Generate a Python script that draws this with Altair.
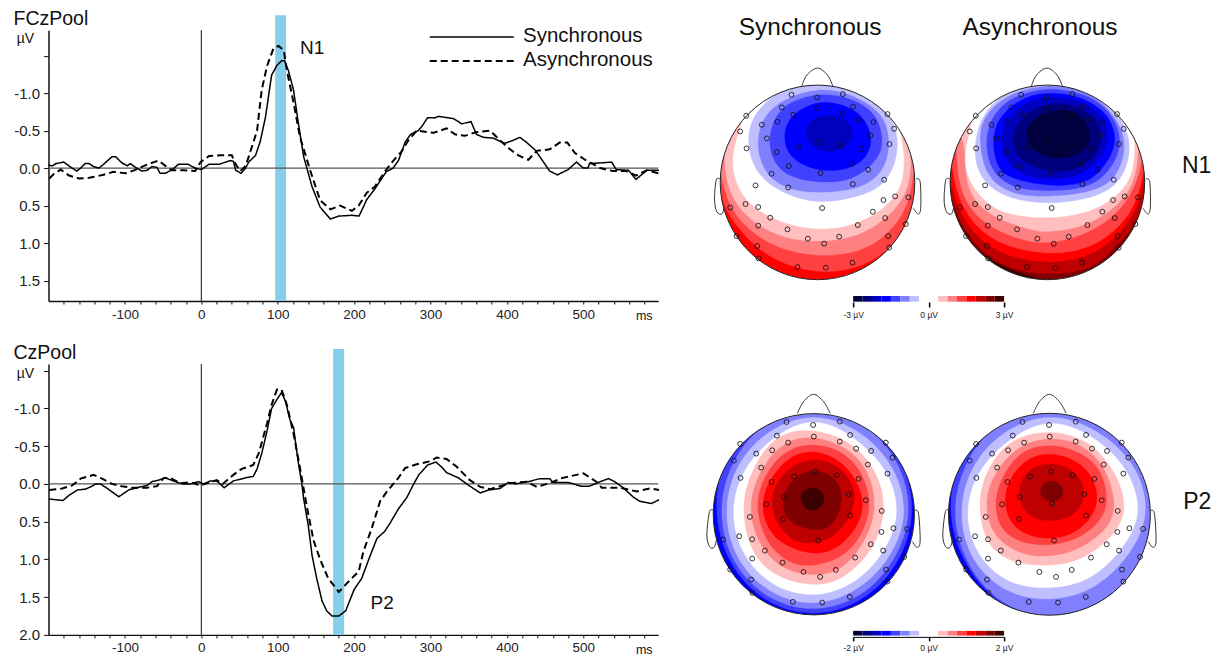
import altair as alt
import pandas as pd

FONT = "Liberation Sans"

# ---------- ERP waveforms: (ms, microvolts) ----------
FCZ_SYNC = [(-200,-.04),(-195,-.03),(-190,-.06),(-180,-.08),(-172,-.02),(-163,.04),(-158,0),(-152,-.06),(-147,-.06),(-141,-.02),(-134,0),(-128,-.05),(-117,-.15),(-112,-.15),(-104,-.07),(-97,-.03),(-93,-.06),(-86,-.01),(-78,.04),(-71,.03),(-64.5,-.02),(-58,-.01),(-54,.07),(-47,.07),(-38,.02),(-30,-.05),(-17,-.05),(-8,0),(0,.02),(10,-.05),(23,-.05),(38,-.1),(42,-.09),(45,.03),(52,.07),(58,0),(62,-.08),(71,-.17),(77,-.35),(84,-.68),(92,-1.24),(99,-1.37),(105,-1.43),(109,-1.43),(114,-1.3),(120.7,-1.04),(127,-.6),(134,-.15),(145,.25),(155.5,.52),(169,.68),(180,.64),(197,.63),(206.5,.64),(216.5,.42),(227,.28),(242,.05),(251,0),(258,-.1),(267,-.35),(274,-.45),(283.8,-.5),(289,-.56),(296,-.67),(306,-.67),(310,-.69),(330,-.66),(341,-.59),(353,-.62),(360,-.45),(369,-.41),(382,-.4),(397,-.33),(408,-.37),(417,-.41),(426,-.34),(437,-.24),(456,.04),(466,.09),(480,.02),(491,-.08),(500,0),(506,0),(508,-.06),(524,-.07),(537,-.08),(543,.02),(559,.03),(569,.15),(583,.03),(599,.03)]
FCZ_ASYNC = [(-199,.14),(-193,.08),(-184,.02),(-173,.1),(-160,.14),(-147,.13),(-128,.09),(-115,.05),(-99,.07),(-88,.03),(-75,-.03),(-62,-.08),(-56,-.1),(-47,-.03),(-38,.03),(-23,.03),(-8,.04),(-1,-.08),(10,-.16),(25,-.17),(40,-.17),(45,-.05),(51,.04),(58,-.03),(62,-.15),(73,-.5),(79,-1.04),(86,-1.36),(94.5,-1.6),(101,-1.63),(108,-1.57),(112,-1.3),(121,-.86),(129,-.42),(142.5,.03),(155.5,.43),(169,.55),(181.7,.5),(197,.57),(206,.5),(216.5,.33),(227,.25),(240,.05),(249,-.07),(262,-.22),(271,-.37),(282,-.5),(304,-.47),(321,-.53),(332,-.45),(345,-.43),(360,-.48),(378,-.5),(391,-.37),(404,-.25),(415,-.17),(428,-.11),(439,-.23),(456,-.25),(469,-.34),(479,-.34),(489,-.2),(504,-.1),(522,0),(539,.04),(556,.04),(569,.1),(583,.03),(599,.07)]
CZ_SYNC = [(-199,.2),(-181,.22),(-173,.15),(-162,.08),(-152,.07),(-143,.03),(-138,0),(-132,0),(-123,.06),(-108,.17),(-95,.08),(-84,.05),(-71,.02),(-64.5,-.03),(-56,-.05),(-47,-.08),(-34,-.03),(-25,0),(-14,0),(-3.5,-.03),(3,0),(12,-.04),(20,-.04),(30,.05),(42,-.04),(57.5,-.08),(68,-.1),(73,-.2),(79,-.4),(86,-.7),(92,-1.0),(99,-1.12),(105,-1.21),(110,-1.1),(116,-.85),(120.7,-.75),(127,-.28),(131.6,0),(134,.2),(140,.55),(145,.95),(151,1.25),(158,1.55),(164,1.68),(171,1.75),(180,1.75),(189,1.68),(200,1.4),(210,1.25),(221,.95),(230,.72),(240,.63),(247,.52),(258,.33),(269,.18),(278,0),(284.6,-.12),(296,-.25),(307,-.29),(315,-.22),(321,-.15),(336.5,-.08),(351.5,.03),(365,.12),(376,.08),(391,.06),(402,-.02),(411,0),(428,-.03),(443,-.07),(456,-.07),(460,-.02),(480,-.02),(497,.03),(508,.03),(522,-.03),(533,-.07),(541,-.03),(552,.05),(566,.18),(574,.23),(589,.26),(599,.21)]
CZ_ASYNC = [(-199,.08),(-182,.06),(-169,.02),(-158,-.07),(-141,-.12),(-130,-.07),(-117,0),(-104,.03),(-91,.05),(-71,.05),(-58,.03),(-49,-.08),(-40.5,-.08),(-27.5,-.01),(-14,-.02),(-1,.02),(20,-.05),(28,0),(42,-.12),(53,-.2),(68,-.25),(75,-.4),(86,-.8),(92,-1.05),(99,-1.25),(105,-1.25),(112,-1.05),(121,-.65),(129,-.22),(136,.18),(140,.4),(147,.75),(155.5,1.0),(166,1.25),(180,1.43),(195,1.27),(206,1.16),(212,.9),(223,.59),(234,.23),(243,.1),(258,-.08),(266.6,-.21),(282,-.26),(299.5,-.3),(308,-.35),(321,-.33),(334,-.23),(351.5,-.05),(365,.04),(378,.07),(391,.03),(404,-.01),(426,-.03),(439,.04),(456,-.01),(473,-.08),(500,-.14),(517,-.03),(524,.05),(548,.05),(570,.1),(587,.06),(599,.08)]

X_TICKS = list(range(-180, 600, 20))
Y_TICKS_TOP = [-1.5, -1.0, -0.5, 0.0, 0.5, 1.0, 1.5]
Y_TICKS_BOT = [-1.5, -1.0, -0.5, 0.0, 0.5, 1.0, 1.5, 2.0]
LEGEND_NAMES = ["Synchronous", "Asynchronous"]

# ---------- colour levels ----------
BLUES = ["#bfbfff", "#8080ff", "#4040ff", "#0000ff", "#0000bf", "#00007f", "#00003f"]
REDS = ["#ffbfbf", "#ff8080", "#ff4040", "#ff0000", "#bf0000", "#7f0000", "#3f0000"]
BAR_COLORS = BLUES[::-1] + ["#ffffff", "#ffffff"] + REDS

# ---------- scalp maps: outer-to-inner level outlines in head coordinates ----------
N1_SYNC = [
 ("#ff0000", None),
 ("#ff4040", [(58,530),(85,610),(140,680),(220,745),(352,785),(470,770),(560,720),(620,640),(650,540),(660,410),(535,255),(352,195),(170,255),(45,410)]),
 ("#ff8080", [(60,460),(80,560),(130,640),(230,710),(360,735),(480,720),(570,660),(625,570),(640,460),(645,360),(535,255),(352,195),(170,255),(50,360)]),
 ("#ffbfbf", [(75,400),(78,500),(110,580),(175,645),(270,685),(372,692),(470,675),(560,620),(620,540),(630,440),(615,350),(535,255),(352,195),(170,255),(85,330)]),
 ("#ffffff", [(135,320),(100,420),(105,500),(140,570),(210,620),(300,650),(372,655),(450,645),(540,600),(600,530),(610,430),(590,340),(560,290),(352,195),(140,290)]),
 ("#bfbfff", [(352,215),(250,240),(160,320),(148,420),(185,500),(260,550),(352,575),(460,560),(550,520),(590,425),(575,330),(500,255)]),
 ("#8080ff", [(352,238),(220,290),(178,370),(180,440),(215,505),(290,540),(380,545),(480,530),(545,480),(565,400),(545,320),(470,265)]),
 ("#4040ff", [(352,255),(250,290),(212,370),(218,440),(265,495),(360,515),(455,505),(525,450),(545,390),(520,310),(440,265)]),
 ("#0000ff", [(352,278),(280,315),(254,375),(275,440),(350,478),(440,475),(495,440),(512,380),(480,315),(420,285)]),
 ("#0000bf", [(385,316),(335,330),(316,368),(340,410),(390,425),(440,405),(458,370),(435,330)]),
]
N1_ASYNC = [
 ("#3f0000", None),
 ("#7f0000", [(50,590),(110,700),(190,760),(340,812),(470,800),(560,740),(620,640),(650,560),(650,400),(520,255),(337,195),(155,255),(30,400)]),
 ("#bf0000", [(45,530),(80,640),(150,730),(250,780),(360,790),(470,770),(550,700),(610,620),(630,520),(640,380),(520,255),(337,195),(155,255),(35,380)]),
 ("#ff0000", [(45,490),(70,590),(130,680),(220,735),(340,755),(460,735),(550,670),(610,580),(628,480),(635,360),(520,255),(337,195),(155,255),(35,360)]),
 ("#ff4040", [(50,440),(65,540),(110,630),(190,695),(300,725),(400,725),(500,690),(590,600),(625,470),(625,340),(520,255),(337,195),(155,255),(45,340)]),
 ("#ff8080", [(65,390),(70,500),(105,590),(170,650),(270,690),(360,695),(470,660),(560,590),(610,490),(615,370),(520,255),(337,195),(155,255),(60,330)]),
 ("#ffbfbf", [(78,360),(90,410),(95,510),(130,580),(200,630),(300,660),(350,662),(450,645),(550,580),(598,500),(605,400),(575,320),(337,195),(120,300)]),
 ("#ffffff", [(120,310),(92,420),(100,500),(150,570),(220,610),(350,622),(470,600),(560,540),(595,460),(590,350),(540,290),(337,195),(125,270)]),
 ("#bfbfff", [(337,218),(230,240),(150,310),(122,400),(130,480),(180,540),(260,570),(349,578),(450,565),(540,525),(580,440),(570,350),(500,265),(430,230)]),
 ("#8080ff", [(337,228),(225,255),(145,330),(140,420),(165,500),(240,550),(349,557),(450,545),(530,510),(565,430),(555,350),(490,270),(420,240)]),
 ("#4040ff", [(337,238),(230,265),(165,340),(158,430),(190,500),(260,535),(345,540),(450,530),(520,480),(555,400),(530,320),(470,265),(400,245)]),
 ("#0000ff", [(337,250),(250,275),(180,350),(185,450),(225,500),(345,525),(450,515),(510,460),(540,390),(510,310),(430,262)]),
 ("#0000bf", [(337,262),(255,290),(205,360),(210,440),(270,495),(355,505),(440,490),(510,420),(510,340),(460,285),(400,268)]),
 ("#00007f", [(355,280),(270,315),(235,380),(250,440),(330,480),(420,478),(490,420),(490,340),(430,295)]),
 ("#00003f", [(365,300),(300,325),(275,370),(295,420),(370,445),(440,425),(465,375),(440,325),(410,305)]),
]
P2_SYNC = [
 ("#0000ff", None),
 ("#4040ff", [(341,63),(181,111),(73,233),(51,388),(92,532),(194,643),(341,686),(487,641),(590,532),(635,388),(605,236),(501,111)]),
 ("#8080ff", [(341,73),(189,124),(94,246),(65,388),(101,526),(200,632),(341,672),(480,629),(578,525),(625,388),(594,242),(493,124)]),
 ("#bfbfff", [(341,95),(201,146),(109,254),(80,388),(114,519),(209,617),(341,655),(470,611),(564,517),(612,388),(577,251),(481,146)]),
 ("#ffffff", [(341,107),(214,167),(129,266),(100,388),(133,508),(220,598),(341,630),(458,592),(544,505),(590,388),(558,263),(468,167)]),
 ("#ffbfbf", [(341,138),(220,165),(145,290),(133,400),(165,510),(240,575),(340,598),(420,580),(500,510),(545,410),(540,300),(470,190)]),
 ("#ff8080", [(341,158),(235,190),(165,300),(155,400),(190,490),(255,550),(340,568),(430,545),(505,440),(520,330),(470,215)]),
 ("#ff4040", [(341,180),(245,210),(180,310),(178,400),(210,480),(270,530),(340,540),(430,510),(490,430),(505,330),(450,220)]),
 ("#ff0000", [(341,200),(255,230),(195,320),(195,400),(240,470),(340,505),(420,480),(480,400),(480,320),(430,240)]),
 ("#bf0000", [(341,225),(270,250),(220,320),(225,400),(280,465),(345,472),(410,445),(458,370),(455,300),(410,245)]),
 ("#7f0000", [(338,256),(280,285),(250,340),(265,405),(335,432),(395,420),(425,340),(400,280)]),
 ("#3f0000", [(338,308),(310,320),(301,343),(315,368),(338,377),(360,368),(373,340),(362,318)]),
]
P2_ASYNC = [
 ("#0000ff", None),
 ("#4040ff", [(343,63),(183,111),(75,233),(48,388),(92,532),(192,650),(343,708),(503,665),(620,548),(663,388),(620,228),(503,111)]),
 ("#8080ff", [(343,68),(188,120),(92,243),(60,388),(98,529),(194,646),(343,698),(500,661),(616,545),(648,388),(611,233),(503,111)]),
 ("#bfbfff", [(343,95),(204,147),(111,254),(80,388),(114,520),(212,615),(343,642),(470,609),(570,519),(633,388),(594,243),(485,141)]),
 ("#ffffff", [(343,112),(218,172),(131,266),(98,388),(133,509),(226,591),(343,607),(455,583),(546,505),(610,388),(572,256),(474,161)]),
 ("#ffbfbf", [(343,143),(220,175),(145,290),(138,390),(165,480),(240,530),(340,540),(440,520),(530,450),(567,370),(540,270),(460,175)]),
 ("#ff8080", [(343,163),(240,195),(165,300),(160,390),(190,460),(270,508),(360,510),(440,485),(520,420),(535,340),(500,240),(430,180)]),
 ("#ff4040", [(343,183),(250,210),(190,310),(187,390),(220,450),(300,478),(400,470),(480,420),(515,350),(490,250),(420,200)]),
 ("#ff0000", [(343,207),(265,235),(215,310),(220,395),(270,445),(350,460),(420,440),(470,390),(485,320),(440,240)]),
 ("#bf0000", [(345,237),(280,260),(253,320),(275,385),(345,408),(420,385),(447,320),(415,260)]),
 ("#7f0000", [(350,288),(325,297),(316,322),(330,343),(352,350),(375,340),(385,318),(372,296)]),
]

MONTAGE_N1 = [(274,254),(351,262),(428,252),(245,292),(352,295),(459,290),(279,314),(428,311),(138,317),(562,312),(185,344),(232,335),(476,330),(520,336),(120,364),(582,356),(200,385),(511,376),(358,396),(296,410),(420,407),(484,416),(139,415),(568,402),(230,426),(454,462),(266,468),(504,479),(361,489),(214,491),(552,509),(166,526),(458,522),(264,532),(585,559),(550,570),(625,562),(136,582),(174,591),(90,592),(366,594),(518,605),(210,623),(555,624),(174,647),(473,645),(617,642),(262,658),(109,678),(323,686),(417,680),(564,678),(372,701),(171,708),(567,713),(175,745),(292,771),(377,773),(457,758)]
MONTAGE_P2 = [(259,111),(339,120),(419,110),(230,152),(341,155),(450,150),(264,173),(419,170),(120,177),(557,173),(168,206),(216,196),(468,191),(513,198),(101,227),(577,218),(183,248),(503,239),(345,260),(282,275),(410,271),(475,282),(121,279),(562,266),(214,291),(445,328),(251,336),(497,346),(349,356),(198,358),(545,378),(149,396),(450,392),(249,402),(580,430),(544,441),(621,432),(117,454),(156,463),(69,464),(354,467),(512,478),(194,497),(549,497),(156,521),(465,518),(612,516),(247,533),(90,554),(310,561),(407,555),(558,554),(360,576),(153,584),(562,590),(157,624),(278,651),(366,653),(449,636)]

NOSE_N1 = [(305,228),(320,195),(352,174),(382,195),(398,228)]
EAR_L_N1 = [(60,507),(48,510),(43,570),(50,605),(65,612),(72,590)]
EAR_R_N1 = [(648,507),(660,515),(662,590),(655,612),(640,595)]
NOSE_P2 = [(292,85),(310,50),(340,28),(370,50),(390,85)]
EAR_L_P2 = [(40,378),(28,380),(20,450),(28,485),(42,487),(50,460)]
EAR_R_P2 = [(643,378),(655,385),(660,470),(650,487),(637,470)]

# ---------- layout ----------
ERP_W, ROW_H, MAP_W = 610, 271, 219
COL_GAP, ROW_GAP = 21, 63
AXIS_COLOR = "#111111"


def erp_panel(name, sync, asyn, y_domain, y_ticks, band, label, label_xy, with_legend, unit_y):
    x_scale = alt.Scale(domain=[-200, 598], nice=False, zero=False)
    x = alt.X("ms:Q", scale=x_scale,
              axis=alt.Axis(values=X_TICKS, title=None, grid=False,
                            labelExpr="datum.value%100==0 ? toString(datum.value) : ''",
                            labelOverlap=False, labelFontSize=13.5, labelFont=FONT, labelColor="#222222",
                            tickSize=3, tickColor=AXIS_COLOR, tickWidth=1, domainColor=AXIS_COLOR,
                            domainWidth=1.5, labelPadding=3, labelFlush=False))
    y = alt.Y("uv:Q", scale=alt.Scale(domain=y_domain, nice=False, zero=False),
              axis=alt.Axis(values=y_ticks, title=None, grid=False,
                            labelExpr="datum.value==-1.5 ? '' : replace(format(datum.value,'.1f'),'\u2212','-')",
                            labelOverlap=False, labelFontSize=15, labelFont=FONT, labelColor="#222222",
                            tickSize=5, tickColor=AXIS_COLOR, tickWidth=1, domainColor=AXIS_COLOR,
                            domainWidth=1.5, labelPadding=4, labelFlush=False))
    band_df = pd.DataFrame([{"ms": band[0], "ms2": band[1], "uv": band[2], "uv2": y_domain[0]}])
    layers = [
        alt.Chart(band_df).mark_rect(color="skyblue").encode(x=x, x2="ms2:Q", y=y, y2="uv2:Q"),
        alt.Chart(pd.DataFrame({"ms": [0]})).mark_rule(color="#111111", strokeWidth=1).encode(x=x),
        alt.Chart(pd.DataFrame({"uv": [0]})).mark_rule(color="#555555", strokeWidth=1.2).encode(y=y),
    ]
    for pts, dash, width in ((sync, [1, 0], 1.5), (asyn, [7, 4], 2)):
        df = pd.DataFrame(pts, columns=["ms", "uv"])
        layers.append(alt.Chart(df).mark_line(color="#000000", strokeWidth=width, strokeDash=dash,
                                              interpolate="linear").encode(x=x, y=y))
    text_style = dict(font=FONT, color="#111111")
    layers.append(alt.Chart(pd.DataFrame({"t": [name]})).mark_text(align="left", fontSize=19.5, **text_style)
                  .encode(text="t:N", x=alt.value(-35), y=alt.value(-11)))
    layers.append(alt.Chart(pd.DataFrame({"t": ["\u00b5V"]})).mark_text(align="center", fontSize=14, **text_style)
                  .encode(text="t:N", x=alt.value(-23), y=alt.value(unit_y)))
    layers.append(alt.Chart(pd.DataFrame({"t": ["ms"]})).mark_text(align="center", fontSize=12.5, **text_style)
                  .encode(text="t:N", x=alt.value(596), y=alt.value(ROW_H + 15)))
    lab = pd.DataFrame([{"ms": label_xy[0], "uv": label_xy[1], "t": label}])
    layers.append(alt.Chart(lab).mark_text(fontSize=19, **text_style).encode(x=x, y=y, text="t:N"))
    if with_legend:
        leg = pd.DataFrame({"ms": [299, 299], "ms2": [409, 409], "uv": [-1.747, -1.427], "t": LEGEND_NAMES})
        leg_text = pd.DataFrame({"ms": [421, 421], "uv": [-1.765, -1.44], "t": LEGEND_NAMES})
        layers.append(alt.Chart(leg[leg.t == LEGEND_NAMES[0]]).mark_rule(color="#000000", strokeWidth=1.5)
                      .encode(x=x, x2="ms2:Q", y=y))
        layers.append(alt.Chart(leg[leg.t == LEGEND_NAMES[1]]).mark_rule(color="#000000", strokeWidth=2, strokeDash=[7, 4])
                      .encode(x=x, x2="ms2:Q", y=y))
        layers.append(alt.Chart(leg_text).mark_text(align="left", fontSize=20.5, **text_style)
                      .encode(x=x, y=y, text="t:N"))
    return alt.layer(*layers)


def tighten(outline):
    # 'basis-closed' pulls a curve inside its control points: offset that pull so it meets the read outline
    n = len(outline)
    out = []
    for i, (px, py) in enumerate(outline):
        ax, ay = outline[i - 1]
        bx, by = outline[(i + 1) % n]
        out.append((px - (ax + bx - 2 * px) / 6, py - (ay + by - 2 * py) / 6))
    return out


def map_panel(levels, montage, shift, nose, ear_l, ear_r, cx, cy, radius, x0, y0, title=None, title_x=None, side=None,
              bar=None):
    xs = alt.Scale(domain=[x0, x0 + 3 * MAP_W], nice=False, zero=False)
    ys = alt.Scale(domain=[y0 + 3 * ROW_H, y0], nice=False, zero=False)
    x = alt.X("x:Q", scale=xs, axis=None)
    y = alt.Y("y:Q", scale=ys, axis=None)
    centre = pd.DataFrame({"x": [cx], "y": [cy]})
    rpx = radius / 3
    layers = []
    for colour, outline in levels:
        if outline is None:
            layers.append(alt.Chart(centre).mark_circle(color=colour, size=(2 * rpx) ** 2, opacity=1).encode(x=x, y=y))
        else:
            df = pd.DataFrame(tighten(outline), columns=["x", "y"]).assign(i=range(len(outline)))
            layers.append(alt.Chart(df).mark_line(fill=colour, stroke=colour, strokeWidth=0.3,
                                                  interpolate="basis-closed")
                          .encode(x=x, y=y, order="i:Q"))
    # white ring hides the parts of the level shapes lying beyond the scalp
    ring = 18
    layers.append(alt.Chart(centre).mark_point(shape="circle", filled=False, color="#ffffff", opacity=1,
                                               size=(2 * (rpx + ring / 2)) ** 2, strokeWidth=ring).encode(x=x, y=y))
    layers.append(alt.Chart(centre).mark_point(shape="circle", filled=False, color="#222222", opacity=1,
                                               size=(2 * rpx) ** 2, strokeWidth=1).encode(x=x, y=y))
    for part in (nose, ear_l, ear_r):
        df = pd.DataFrame(part, columns=["x", "y"]).assign(i=range(len(part)), x=lambda d: d.x + shift)
        layers.append(alt.Chart(df).mark_line(color="#333333", strokeWidth=1, interpolate="cardinal")
                      .encode(x=x, y=y, order="i:Q"))
    el = pd.DataFrame(montage, columns=["x", "y"]).assign(x=lambda d: d.x + shift)
    layers.append(alt.Chart(el).mark_point(shape="circle", filled=False, color="#111111", size=24,
                                           strokeWidth=1, opacity=0.85).encode(x=x, y=y))
    if title:
        t = pd.DataFrame({"x": [title_x], "y": [55], "t": [title]})
        layers.append(alt.Chart(t).mark_text(fontSize=24.5, font=FONT, color="#111111").encode(x=x, y=y, text="t:N"))
    if side:
        t = pd.DataFrame([{"x": side[0], "y": side[1], "t": side[2]}])
        layers.append(alt.Chart(t).mark_text(fontSize=23, font=FONT, color="#111111").encode(x=x, y=y, text="t:N"))
    head = alt.layer(*layers)
    if bar is None:
        return head
    limit, ytop, ybot, rng, offset, domain, tick = bar
    n = len(BAR_COLORS)
    step = 2 * limit / n
    cells = pd.DataFrame({"v": [-limit + i * step for i in range(n)],
                          "v2": [-limit + (i + 1) * step for i in range(n)],
                          "c": BAR_COLORS, "y": [ytop] * n, "y2": [ybot] * n})
    barchart = alt.Chart(cells).mark_rect().encode(
        x=alt.X("v:Q", scale=alt.Scale(domain=[-limit, limit], range=rng, nice=False, zero=False),
                axis=alt.Axis(orient="bottom", offset=offset, values=[-limit, 0, limit], title=None, grid=False,
                              labelExpr="replace(toString(datum.value),'\u2212','-') + ' \u00b5V'",
                              labelFont=FONT, labelFontSize=8.5, labelColor="#222222", labelPadding=3,
                              labelFlush=False, labelOverlap=False,
                              tickSize=tick, tickWidth=1.5, tickColor="#000000",
                              domain=domain, domainColor="#000000", domainWidth=1)),
        x2="v2:Q", y=y, y2="y2:Q", fill=alt.Fill("c:N", scale=None))
    return alt.layer(head, barchart).resolve_scale(x="independent")


ROW1_Y0, ROW2_Y0 = 60, -63
M1_X0 = 3 * (679 - 700)
M2_X0 = 3 * (919 - 935)

erp1 = erp_panel("FCzPool", FCZ_SYNC, FCZ_ASYNC, [1.773, -1.84], Y_TICKS_TOP, (96.7, 111, -2.04), "N1", (145, -1.6), True, 9)
erp2 = erp_panel("CzPool", CZ_SYNC, CZ_ASYNC, [2.0, -1.589], Y_TICKS_BOT, (172.5, 187, -1.788), "P2", (236.6, 1.58), False, 10)

m1 = map_panel(N1_SYNC, MONTAGE_N1, 0, NOSE_N1, EAR_L_N1, EAR_R_N1, 352, 517, 292, M1_X0, ROW1_Y0,
               title="Synchronous", title_x=330, bar=(3, 858, 875, [174, 325], 1, False, 5))
m2 = map_panel(N1_ASYNC, MONTAGE_N1, -16, NOSE_N1, EAR_L_N1, EAR_R_N1, 337, 517, 292, M2_X0, ROW1_Y0,
               title="Asynchronous", title_x=315, side=(785, 468, "N1"))
m3 = map_panel(P2_SYNC, MONTAGE_P2, 0, NOSE_P2, EAR_L_P2, EAR_R_P2, 341, 388, 302, M1_X0, ROW2_Y0,
               bar=(2, 738, 752, [174, 325], 2, True, 4))
m4 = map_panel(P2_ASYNC, MONTAGE_P2, 3, NOSE_P2, EAR_L_P2, EAR_R_P2, 343, 388, 303, M2_X0, ROW2_Y0,
               side=(787, 352, "P2"))

panels = [erp1.properties(width=ERP_W, height=ROW_H), m1.properties(width=MAP_W, height=ROW_H),
          m2.properties(width=MAP_W, height=ROW_H), erp2.properties(width=ERP_W, height=ROW_H),
          m3.properties(width=MAP_W, height=ROW_H), m4.properties(width=MAP_W, height=ROW_H)]

chart = alt.concat(*panels, columns=3, spacing={"row": ROW_GAP, "column": COL_GAP}, bounds="flush").properties(
    padding={"left": 5.5, "top": 1, "right": 0, "bottom": 0}
).configure_view(stroke=None)

chart.save("out.html", embed_options={"renderer": "svg", "actions": False})
